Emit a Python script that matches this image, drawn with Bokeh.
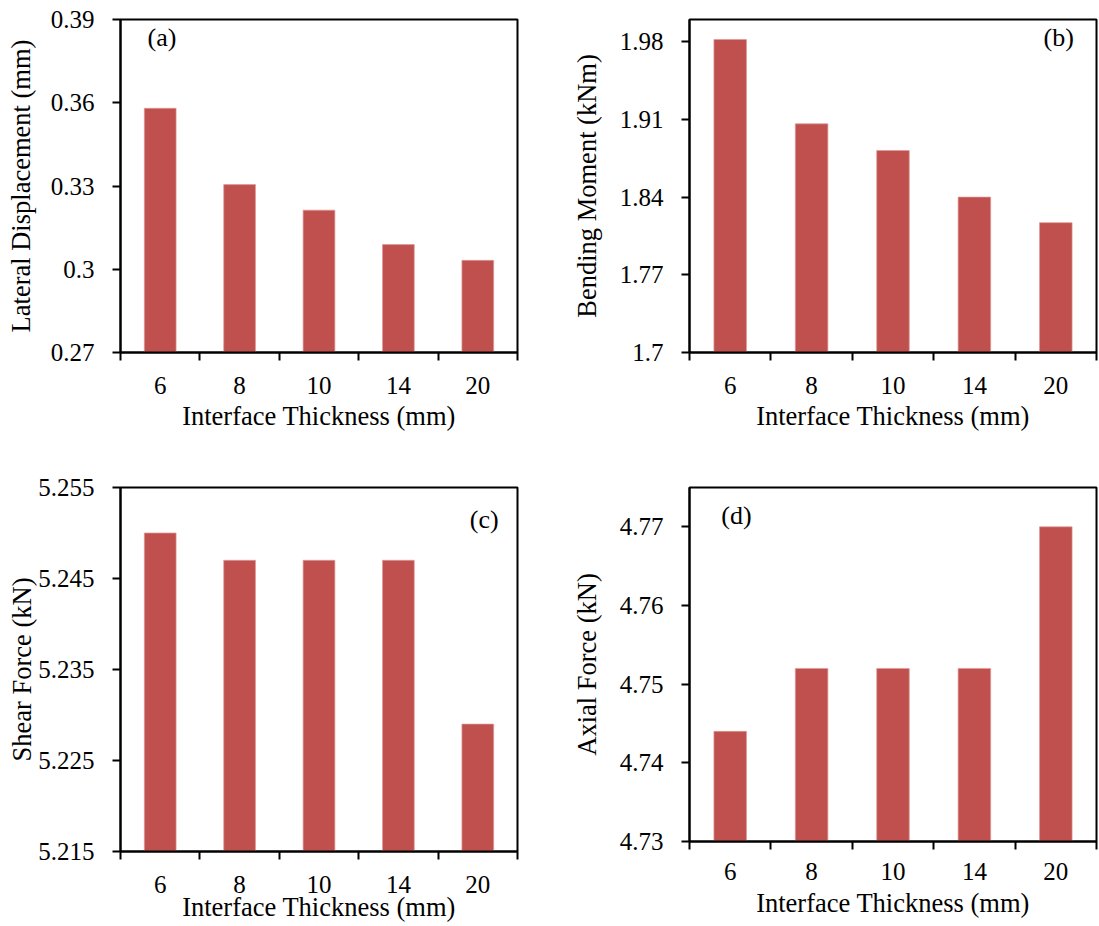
from bokeh.plotting import figure
from bokeh.models import Range1d, FixedTicker, Label
from bokeh.layouts import column, row
from bokeh.embed import file_html
from bokeh.resources import INLINE

# ---------------- data ----------------
thickness = ["6", "8", "10", "14", "20"]

lateral_disp = [0.358, 0.3305, 0.3213, 0.3089, 0.3032]
bending_moment = [1.982, 1.906, 1.882, 1.840, 1.817]
shear_force = [5.250, 5.247, 5.247, 5.247, 5.229]
axial_force = [4.744, 4.752, 4.752, 4.752, 4.770]

ticks_a = [0.27, 0.30, 0.33, 0.36, 0.39]
labels_a = ["0.27", "0.3", "0.33", "0.36", "0.39"]
ticks_b = [1.70, 1.77, 1.84, 1.91, 1.98]
labels_b = ["1.7", "1.77", "1.84", "1.91", "1.98"]
ticks_c = [5.215, 5.225, 5.235, 5.245, 5.255]
labels_c = ["5.215", "5.225", "5.235", "5.245", "5.255"]
ticks_d = [4.73, 4.74, 4.75, 4.76, 4.77]
labels_d = ["4.73", "4.74", "4.75", "4.76", "4.77"]

FONT = "Liberation Serif"
BAR = "#C0504D"
TICK_FS = "25px"
LAB_FS = "26.5px"


def panel(values, yr, yticks, ylabels, ylabel, tag, tag_xy, w, h, borders,
          ylab_standoff, xtick_standoff, xlab_standoff):
    bl, br, bt, bb = borders
    n = len(thickness)
    p = figure(width=w, height=h, output_backend="svg", toolbar_location=None,
               x_range=Range1d(0, n), y_range=Range1d(*yr),
               min_border_left=bl, min_border_right=br,
               min_border_top=bt, min_border_bottom=bb)
    xs = [i + 0.5 for i in range(n)]
    p.vbar(x=xs, top=values, bottom=yr[0], width=0.4,
           fill_color=BAR, line_color="#DE9A98", line_width=0.7)

    p.xgrid.visible = False
    p.ygrid.visible = False
    p.outline_line_color = "black"
    p.outline_line_width = 2
    p.outline_line_alpha = 1.0
    p.background_fill_color = "white"
    p.border_fill_color = "white"

    # x axis: labels at category centres, tick marks at category boundaries
    xa = p.xaxis[0]
    xa.ticker = FixedTicker(ticks=xs, minor_ticks=list(range(n + 1)))
    xa.major_label_overrides = {x: lab for x, lab in zip(xs, thickness)}
    xa.major_tick_out = 0
    xa.major_tick_in = 0
    xa.minor_tick_out = 8
    xa.minor_tick_in = 0
    xa.minor_tick_line_color = "black"
    xa.minor_tick_line_width = 2
    xa.axis_line_width = 2
    xa.axis_line_color = "black"
    xa.major_label_standoff = xtick_standoff
    xa.major_label_text_font = FONT
    xa.major_label_text_font_size = TICK_FS
    xa.major_label_text_color = "black"
    xa.axis_label = "Interface Thickness (mm)"
    xa.axis_label_text_font = FONT
    xa.axis_label_text_font_size = LAB_FS
    xa.axis_label_text_font_style = "normal"
    xa.axis_label_text_color = "black"
    xa.axis_label_standoff = xlab_standoff

    ya = p.yaxis[0]
    ya.ticker = FixedTicker(ticks=yticks, minor_ticks=[])
    ya.major_label_overrides = {t: lab for t, lab in zip(yticks, ylabels)}
    ya.major_tick_out = 8
    ya.major_tick_in = 0
    ya.major_tick_line_width = 2
    ya.major_tick_line_color = "black"
    ya.minor_tick_line_color = None
    ya.axis_line_width = 2
    ya.axis_line_color = "black"
    ya.major_label_standoff = 18
    ya.major_label_text_font = FONT
    ya.major_label_text_font_size = TICK_FS
    ya.major_label_text_color = "black"
    ya.axis_label = ylabel
    ya.axis_label_text_font = FONT
    ya.axis_label_text_font_size = LAB_FS
    ya.axis_label_text_font_style = "normal"
    ya.axis_label_text_color = "black"
    ya.axis_label_standoff = ylab_standoff

    p.add_layout(Label(x=tag_xy[0], y=tag_xy[1], text=tag,
                       text_font=FONT, text_font_size="26px",
                       text_color="black", text_baseline="top",
                       text_align="left"))
    return p


W_L, W_R = 550, 548
H_TOP, H_BOT = 462, 463
# borders: (left, right, top, bottom)
pa = panel(lateral_disp, (0.27, 0.39), ticks_a, labels_a,
           "Lateral Displacement (mm)", "(a)", (0.34, 0.3888),
           W_L, H_TOP, (117, 33, 19, 110), 12, 16, 4)
pb = panel(bending_moment, (1.70, 2.00), ticks_b, labels_b,
           "Bending Moment (kNm)", "(b)", (4.35, 1.997),
           W_R, H_TOP, (139, 2, 19, 110), 15, 16, 4)
pc = panel(shear_force, (5.215, 5.255), ticks_c, labels_c,
           "Shear Force (kN)", "(c)", (4.40, 5.2531),
           W_L, H_BOT, (120, 33, 25, 74), -2, 16, -4)
pd = panel(axial_force, (4.73, 4.775), ticks_d, labels_d,
           "Axial Force (kN)", "(d)", (0.39, 4.7733),
           W_R, H_BOT, (139, 2, 25, 84), 15, 13, 5)

layout = row(column(pa, pc), column(pb, pd))

open("out.html", "w").write(file_html(layout, INLINE))
